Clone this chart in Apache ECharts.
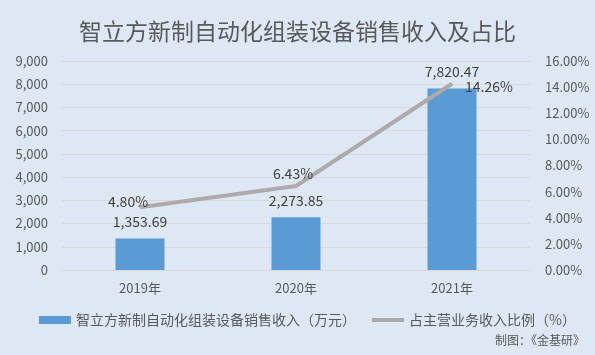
<!DOCTYPE html>
<html>
<head>
<meta charset="utf-8">
<script src="https://cdn.jsdelivr.net/npm/echarts@6/dist/echarts.min.js"></script>
<style>
  html, body { margin: 0; padding: 0; background: #dde8f4; }
  #chart { width: 595px; height: 355px; }
</style>
</head>
<body>
<div id="chart"></div>
<script>
const years = ['2019年', '2020年', '2021年']
const revenue = [1353.69, 2273.85, 7820.47]
const ratio = [4.80, 6.43, 14.26]
const revenueName = '智立方新制自动化组装设备销售收入（万元）'
const ratioName = '占主营业务收入比例（%）'

const chart = echarts.init(document.getElementById('chart'))
const fmt = n => n.toLocaleString('en-US', { minimumFractionDigits: 2, maximumFractionDigits: 2 })
const font = '"Microsoft YaHei", "Noto Sans CJK SC", sans-serif'
// label nudges for the ratio line, from the picture
const ratioLabelShift = [[-12, 7], [-3, 0], [37, 15]]

chart.setOption({
  backgroundColor: '#dde8f4',
  textStyle: { fontFamily: font },
  title: {
    text: '智立方新制自动化组装设备销售收入及占比',
    left: 'center',
    top: 15,
    textStyle: { fontSize: 23, fontWeight: 'normal', color: '#595959', fontFamily: font }
  },
  graphic: [{
    type: 'text',
    right: 10,
    top: 334,
    style: { text: '制图：《金基研》', fontSize: 12, fill: '#595959', fontFamily: font }
  }],
  legend: {
    top: 308,
    left: 34,
    itemGap: 14,
    itemWidth: 32,
    itemHeight: 8,
    textStyle: { fontSize: 14, color: '#595959' },
    data: [
      { name: revenueName, icon: 'rect' },
      { name: ratioName, itemStyle: { opacity: 0 }, lineStyle: { width: 4, color: '#aeaaaa' } }
    ]
  },
  grid: { left: 62, right: 65, top: 61, bottom: 85 },
  xAxis: {
    type: 'category',
    data: years,
    axisLine: { lineStyle: { color: '#d9d9d9' } },
    axisTick: { show: false },
    axisLabel: { color: '#595959', fontSize: 13, margin: 12 }
  },
  yAxis: [
    {
      type: 'value',
      min: 0,
      max: 9000,
      interval: 1000,
      axisLabel: { color: '#595959', fontSize: 13, margin: 14, formatter: v => v.toLocaleString('en-US') },
      splitLine: { lineStyle: { color: '#d9d9d9' } }
    },
    {
      type: 'value',
      min: 0,
      max: 16,
      interval: 2,
      axisLabel: { color: '#595959', fontSize: 13, margin: 15, formatter: v => v.toFixed(2) + '%' },
      splitLine: { show: false }
    }
  ],
  series: [
    {
      name: revenueName,
      type: 'bar',
      data: revenue,
      barWidth: 49,
      itemStyle: { color: '#5b9bd5' },
      label: {
        show: true,
        position: 'top',
        distance: 10,
        fontSize: 14,
        color: '#404040',
        formatter: p => fmt(p.value)
      }
    },
    {
      name: ratioName,
      type: 'line',
      yAxisIndex: 1,
      data: ratio,
      symbol: 'circle',
      symbolSize: 1,
      lineStyle: { color: '#aeaaaa', width: 4 },
      itemStyle: { color: '#aeaaaa' },
      label: {
        show: true,
        position: 'top',
        distance: 5,
        fontSize: 14,
        color: '#404040',
        formatter: p => p.value.toFixed(2) + '%'
      },
      labelLayout: p => ({ dx: ratioLabelShift[p.dataIndex][0], dy: ratioLabelShift[p.dataIndex][1] })
    }
  ]
})
</script>
</body>
</html>
